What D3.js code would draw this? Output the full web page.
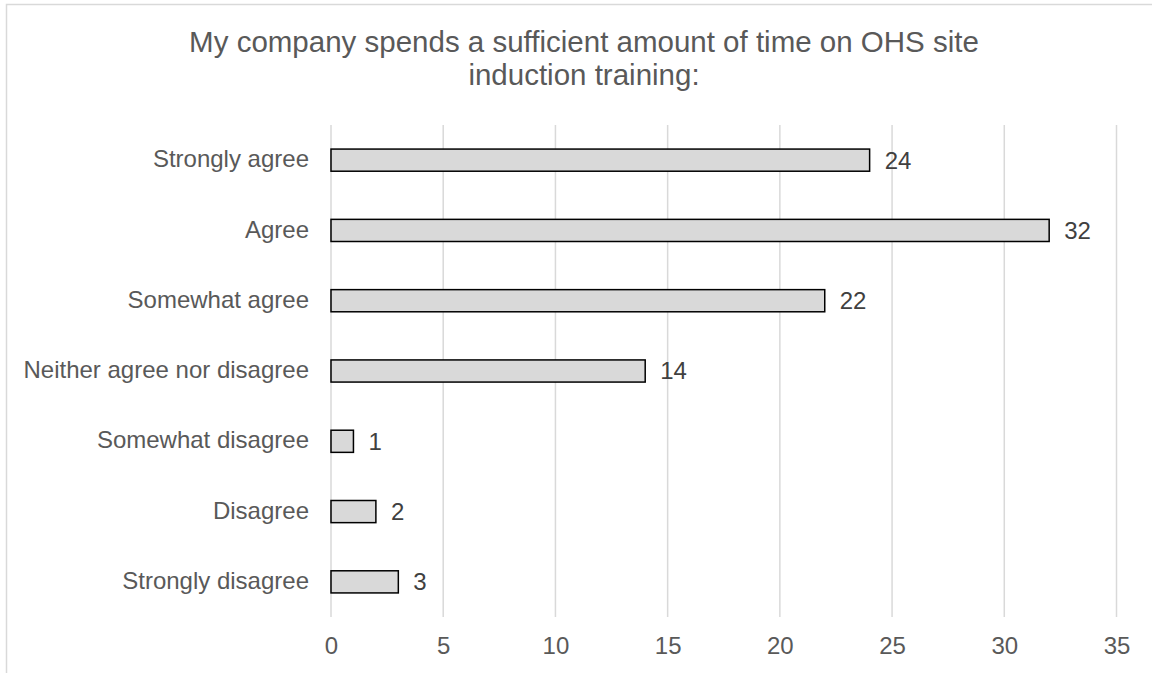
<!DOCTYPE html>
<html>
<head>
<meta charset="utf-8">
<script src="https://cdn.jsdelivr.net/npm/d3@7"></script>
<style>
  html, body { margin: 0; padding: 0; background: #fff; }
  svg { display: block; font-family: "Liberation Sans", Arial, sans-serif; }
</style>
</head>
<body>
<svg id="chart" width="1152" height="673"></svg>
<script>
// Survey responses, top to bottom as shown
const categories = [
  "Strongly agree",
  "Agree",
  "Somewhat agree",
  "Neither agree nor disagree",
  "Somewhat disagree",
  "Disagree",
  "Strongly disagree"
];
const counts = [24, 32, 22, 14, 1, 2, 3];
const xTicks = [0, 5, 10, 15, 20, 25, 30, 35];
const titleLines = [
  "My company spends a sufficient amount of time on OHS site",
  "induction training:"
];

const svg = d3.select("#chart");
const textColor = "#595959";
const labelSize = 24;

// Chart frame
svg.append("rect")
  .attr("x", 6.5).attr("y", 4.5)
  .attr("width", 1200).attr("height", 720)
  .attr("fill", "#fff")
  .attr("stroke", "#d9d9d9")
  .attr("stroke-width", 1.5);

const plot = { left: 331, right: 1116.5, top: 125, bottom: 617 };

const x = d3.scaleLinear().domain([0, 35]).range([plot.left, plot.right]);
const y = d3.scaleBand().domain(categories).range([plot.top, plot.bottom]).paddingInner(0.685).paddingOuter(0.3425);

// Title, two centred lines
svg.append("text")
  .attr("text-anchor", "middle")
  .attr("font-size", 29.5)
  .attr("fill", textColor)
  .selectAll("tspan")
  .data(titleLines)
  .join("tspan")
  .attr("x", 584)
  .attr("y", (d, i) => 52 + i * 33)
  .text(d => d);

// Vertical gridlines
svg.append("g")
  .selectAll("line")
  .data(xTicks)
  .join("line")
  .attr("x1", d => x(d)).attr("x2", d => x(d))
  .attr("y1", plot.top).attr("y2", plot.bottom)
  .attr("stroke", "#d9d9d9")
  .attr("stroke-width", 1.5);

// X axis labels
const xAxis = d3.axisBottom(x).tickValues(xTicks).tickSize(0).tickPadding(0);
const gx = svg.append("g")
  .attr("transform", `translate(0,${plot.bottom + 20})`)
  .call(xAxis);
gx.select(".domain").remove();
gx.selectAll("text")
  .attr("font-size", labelSize)
  .attr("font-family", "Liberation Sans, Arial, sans-serif")
  .attr("fill", textColor);

// Y axis labels
const yAxis = d3.axisLeft(y).tickSize(0).tickPadding(22);
const gy = svg.append("g")
  .attr("transform", `translate(${plot.left},0)`)
  .call(yAxis);
gy.select(".domain").remove();
gy.selectAll("text")
  .attr("font-size", labelSize)
  .attr("font-family", "Liberation Sans, Arial, sans-serif")
  .attr("fill", textColor)
  .attr("dy", "0.3em");

// Bars
svg.append("g")
  .selectAll("rect")
  .data(categories)
  .join("rect")
  .attr("x", x(0))
  .attr("y", d => y(d))
  .attr("width", (d, i) => x(counts[i]) - x(0))
  .attr("height", y.bandwidth())
  .attr("fill", "#d9d9d9")
  .attr("stroke", "#000")
  .attr("stroke-width", 1.5);

// Value labels
svg.append("g")
  .selectAll("text")
  .data(categories)
  .join("text")
  .attr("x", (d, i) => x(counts[i]) + 15)
  .attr("y", d => y(d) + y.bandwidth() / 2)
  .attr("dy", "0.35em")
  .attr("font-size", labelSize)
  .attr("fill", "#404040")
  .text((d, i) => counts[i]);
</script>
</body>
</html>
